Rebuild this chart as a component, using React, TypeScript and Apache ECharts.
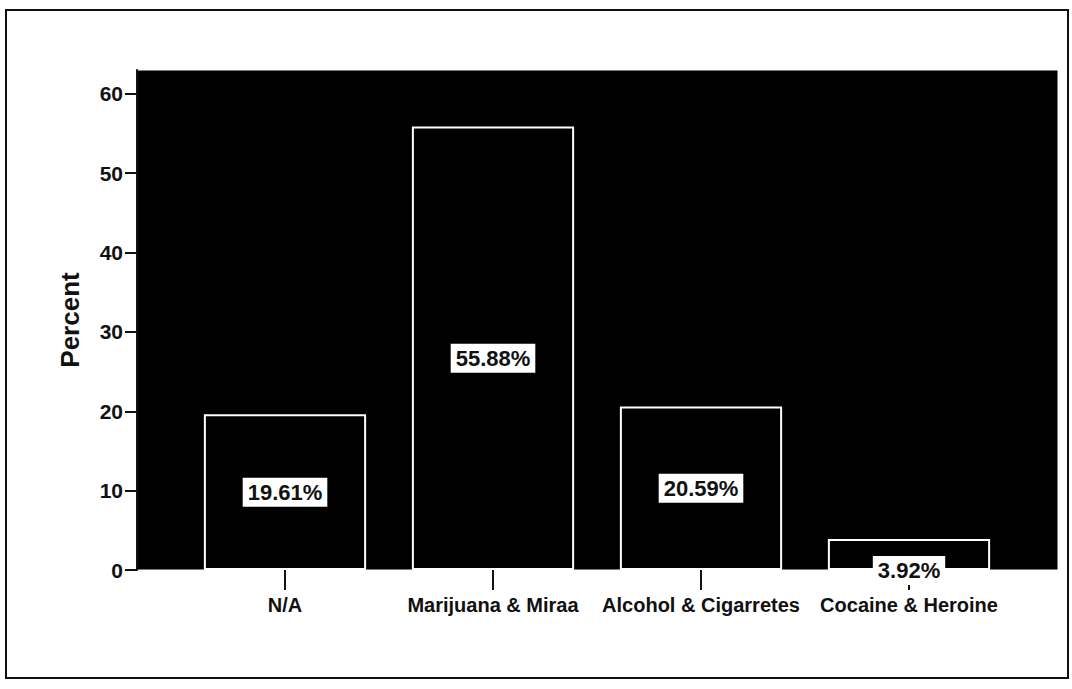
import React, { useEffect, useRef } from "react";
import * as echarts from "echarts";

const categories = ["N/A", "Marijuana & Miraa", "Alcohol & Cigarretes", "Cocaine & Heroine"];
const percentValues = [19.61, 55.88, 20.59, 3.92];
const labelTexts = ["19.61%", "55.88%", "20.59%", "3.92%"];
const yTicks = [0, 10, 20, 30, 40, 50, 60];

const FONT = "'Liberation Sans', Arial, sans-serif";

export default function App() {
  const ref = useRef<HTMLDivElement>(null);
  useEffect(() => {
    if (!ref.current) return;
    const chart = echarts.init(ref.current, null, { renderer: "svg" });
    const top = 70;
    const bottom = 119;
    chart.setOption({
      animation: false,
      backgroundColor: "#fff",
      graphic: [
        {
          type: "rect",
          shape: { x: 6, y: 10, width: 1062, height: 668 },
          style: { fill: "none", stroke: "#111", lineWidth: 2 },
          silent: true,
        },
      ],
      grid: [
        { left: 137, right: 14, top, bottom, show: true, backgroundColor: "#000", borderColor: "#fff", borderWidth: 1 },
        { left: 181, right: 59, top, bottom },
      ],
      xAxis: [
        { gridIndex: 0, type: "category", data: categories, show: false },
        {
          gridIndex: 1,
          type: "category",
          data: categories,
          axisLine: { show: false },
          axisTick: { show: true, alignWithLabel: true, length: 20, lineStyle: { color: "#111", width: 2 } },
          axisLabel: { color: "#111", fontFamily: FONT, fontWeight: "bold", fontSize: 20, margin: 25, interval: 0 },
        },
      ],
      yAxis: [
        {
          gridIndex: 0,
          type: "value",
          min: 0,
          max: 63,
          interval: 10,
          name: "Percent",
          nameLocation: "middle",
          nameGap: 54,
          nameTextStyle: { color: "#111", fontFamily: FONT, fontWeight: "bold", fontSize: 26 },
          axisLine: { show: true, lineStyle: { color: "#111", width: 2 } },
          axisTick: { show: true, length: 12, customValues: yTicks, lineStyle: { color: "#111", width: 2 } },
          axisLabel: {
            color: "#111",
            fontFamily: FONT,
            fontWeight: "bold",
            fontSize: 21,
            margin: 14,
            customValues: yTicks,
          },
          splitLine: { show: false },
        },
        { gridIndex: 1, type: "value", min: 0, max: 63, interval: 10, show: false, splitLine: { show: false } },
      ],
      series: [
        {
          type: "bar",
          xAxisIndex: 1,
          yAxisIndex: 1,
          barCategoryGap: "22%",
          data: percentValues.map((v, i) => ({
            value: v,
            label: i === 3 ? { offset: [0, 16] } : i === 1 ? { offset: [0, 10] } : undefined,
          })),
          itemStyle: { color: "#000", borderColor: "#fff", borderWidth: 2 },
          label: {
            show: true,
            position: "inside",
            formatter: (p: any) => labelTexts[p.dataIndex],
            color: "#111",
            backgroundColor: "#fff",
            padding: [4, 5, 3, 5],
            fontFamily: FONT,
            fontWeight: "bold",
            fontSize: 22,
          },
        },
      ],
    });
    return () => chart.dispose();
  }, []);
  return <div ref={ref} style={{ position: "fixed", left: 0, top: 0, width: 1072, height: 689 }} />;
}
